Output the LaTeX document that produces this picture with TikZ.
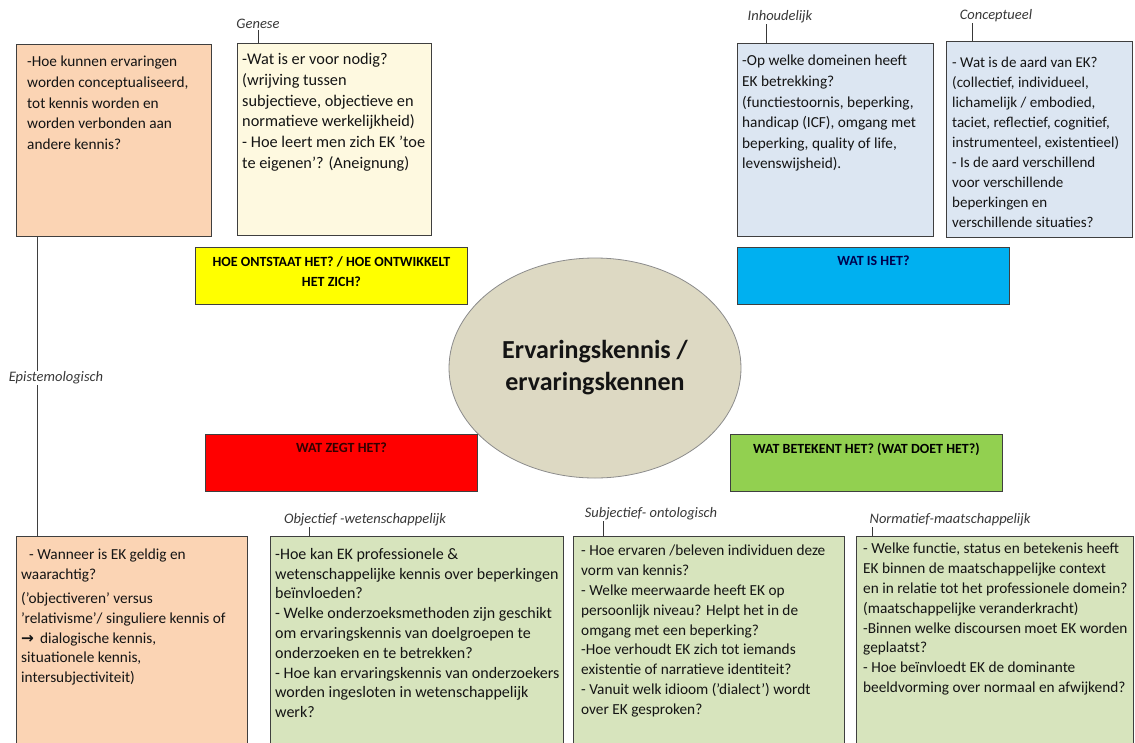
\documentclass[tikz,border=0pt]{standalone}
\usepackage{fontspec}
\setmainfont{Carlito}
\newfontfamily\arrowfont{DejaVu Sans}
\usetikzlibrary{positioning, shapes.geometric}

\definecolor{peach}{HTML}{FBD4B4}
\definecolor{cream}{HTML}{FEF9E0}
\definecolor{paleblue}{HTML}{DCE6F2}
\definecolor{paleolive}{HTML}{D7E4BD}
\definecolor{headyellow}{HTML}{FFFF00}
\definecolor{headcyan}{HTML}{00B0F0}
\definecolor{headred}{HTML}{FF0000}
\definecolor{headgreen}{HTML}{92D050}
\definecolor{ovalfill}{HTML}{DDD9C3}
\definecolor{ovalline}{HTML}{8C8C8C}
\definecolor{boxline}{HTML}{3F3F3F}
\definecolor{inkdark}{HTML}{141414}
\definecolor{inkgray}{HTML}{383838}

\tikzset{
  qbox/.style={draw=boxline, line width=0.9pt, anchor=north west, inner sep=0pt},
  qtext/.style={anchor=north west, align=left, inner sep=0pt, text=inkdark,
    font=\fontsize{15.3}{20.6}\selectfont},
  qlow/.style={qtext, font=\fontsize{15.3}{19.8}\selectfont},
  aspect/.style={inner sep=1pt, text=inkgray, font=\itshape\fontsize{14.5}{16}\selectfont},
  headbox/.style={draw=boxline, line width=0.9pt, anchor=north west, inner sep=0pt,
    minimum width=272pt, minimum height=57pt},
  headtext/.style={anchor=north, align=center, inner sep=0pt,
    font=\bfseries\fontsize{14}{20}\selectfont},
  tick/.style={draw=inkgray, line width=0.7pt},
}

\begin{document}
\begin{tikzpicture}[x=1pt, y=-1pt]
  \clip (0,0) rectangle (1135,742);
  \fill[white] (0,0) rectangle (1135,742);

  % Ovaal in het midden
  \node[ellipse, draw=ovalline, fill=ovalfill, line width=0.8pt,
    minimum width=292pt, minimum height=220pt, inner sep=0pt] (kern) at (595,368) {};
  \node[align=center, text=inkdark, font=\bfseries\fontsize{26}{32}\selectfont]
    (kernT) at (kern.center) {Ervaringskennis /\\ervaringskennen};

  % Bovenste vakken
  \node[qbox, fill=peach, minimum width=195pt, minimum height=192pt] (epiTop) at (16,44) {};
  \node[qtext, below right=12pt and 11pt of epiTop.north west] (epiTopT)
    {-Hoe kunnen ervaringen\\worden  conceptualiseerd,\\tot kennis worden en\\worden verbonden aan\\andere kennis?};

  \node[qbox, fill=cream, minimum width=194pt, minimum height=192pt] (genBox) at (237,43) {};
  \node[qtext, font=\fontsize{16.3}{20.8}\selectfont, below right=10pt and 5pt of genBox.north west] (genT)
    {-Wat is er voor nodig?\\(wrijving tussen\\subjectieve, objectieve en\\normatieve werkelijkheid)\\- Hoe leert men zich EK 'toe\\te eigenen'? (Aneignung)};

  \node[qbox, fill=paleblue, minimum width=196pt, minimum height=193pt] (inhBox) at (737,43) {};
  \node[qtext, below right=12pt and 5pt of inhBox.north west] (inhT)
    {-Op welke domeinen heeft\\EK betrekking?\\(functiestoornis, beperking,\\handicap (ICF), omgang met\\beperking, quality of life,\\levenswijsheid).};

  \node[qbox, fill=paleblue, minimum width=186pt, minimum height=196pt] (conBox) at (946,41) {};
  \node[qtext, font=\fontsize{15}{20}\selectfont, below right=16pt and 6pt of conBox.north west] (conT)
    {- Wat is de aard van EK?\\(collectief, individueel,\\lichamelijk / embodied,\\taciet, reflectief, cognitief,\\instrumenteel,  existentieel)\\- Is de aard verschillend\\voor verschillende\\beperkingen en\\verschillende situaties?};

  % Vragen rond de ovaal
  \node[headbox, fill=headyellow] (hoeBox) at (195,247) {};
  \node[headtext, below=9pt of hoeBox.north] (hoeT) {HOE ONTSTAAT HET? / HOE ONTWIKKELT\\HET ZICH?};
  \node[headbox, fill=headcyan] (watBox) at (737,247) {};
  \node[headtext, text=black!70!blue, below=9pt of watBox.north] (watT) {WAT IS HET?};
  \node[headbox, fill=headred] (zegtBox) at (205,434) {};
  \node[headtext, text=black!80!red, below=9pt of zegtBox.north] (zegtT) {WAT ZEGT HET?};
  \node[headbox, fill=headgreen] (betBox) at (730,434) {};
  \node[headtext, below=9pt of betBox.north] (betT) {WAT BETEKENT HET? (WAT DOET HET?)};

  % Onderste vakken
  \node[qbox, fill=peach, minimum width=231pt, minimum height=220pt] (epiBot) at (16,536) {};
  \node[qlow, below right=13pt and 5pt of epiBot.north west] (epiBotT)
    {\hspace{8pt}- Wanneer is EK geldig en\\waarachtig?\\[4pt]('objectiveren'  versus\\'relativisme'/ singuliere kennis of\\{\arrowfont\bfseries →}\, dialogische kennis,\\situationele kennis,\\intersubjectiviteit)};

  \node[qbox, fill=paleolive, minimum width=293pt, minimum height=220pt] (objBox) at (270,536) {};
  \node[qlow, font=\fontsize{16}{19.8}\selectfont, below right=12pt and 5pt of objBox.north west] (objT)
    {-Hoe kan EK professionele \&\\wetenschappelijke kennis over beperkingen\\beïnvloeden?\\- Welke onderzoeksmethoden zijn geschikt\\om ervaringskennis van doelgroepen te\\onderzoeken en te betrekken?\\- Hoe kan ervaringskennis van onderzoekers\\worden ingesloten in wetenschappelijk\\werk?};

  \node[qbox, fill=paleolive, minimum width=271pt, minimum height=220pt] (subBox) at (573,536) {};
  \node[qlow, below right=9pt and 8pt of subBox.north west] (subT)
    {- Hoe ervaren /beleven individuen deze\\vorm van kennis?\\- Welke meerwaarde heeft EK op\\persoonlijk niveau? Helpt het in de\\omgang met een beperking?\\-Hoe verhoudt EK zich tot iemands\\existentie of narratieve identiteit?\\- Vanuit welk idioom ('dialect') wordt\\over EK gesproken?};

  \node[qbox, fill=paleolive, minimum width=277pt, minimum height=220pt] (norBox) at (856,536) {};
  \node[qlow, below right=7pt and 7pt of norBox.north west] (norT)
    {- Welke functie, status en betekenis heeft\\EK  binnen de maatschappelijke context\\en in relatie tot het professionele domein?\\(maatschappelijke veranderkracht)\\-Binnen welke discoursen moet EK worden\\geplaatst?\\- Hoe beïnvloedt EK de dominante\\beeldvorming over normaal en afwijkend?};

  % Aspecten met streepje naar hun vak
  \node[aspect] (genL) at (258,24) {Genese};
  \node[aspect] (inhL) at (780,17) {Inhoudelijk};
  \node[aspect] (conL) at (996,16) {Conceptueel};
  \node[aspect] (objL) at (365,520) {Objectief -wetenschappelijk};
  \node[aspect] (subL) at (651,514) {Subjectief- ontologisch};
  \node[aspect] (norL) at (950,520) {Normatief-maatschappelijk};

  \coordinate (genP) at (genL.south);
  \coordinate (inhP) at ([xshift=-14pt]inhL.south);
  \coordinate (conP) at ([xshift=-24pt]conL.south);
  \coordinate (objP) at ([xshift=-56pt]objL.south);
  \coordinate (subP) at ([xshift=-48pt]subL.south);
  \coordinate (norP) at ([xshift=-78pt]norL.south);
  \draw[tick] (genP) -- (genP |- genBox.north);
  \draw[tick] (inhP) -- (inhP |- inhBox.north);
  \draw[tick] (conP) -- (conP |- conBox.north);
  \draw[tick] (objP) -- (objP |- objBox.north);
  \draw[tick] (subP) -- (subP |- subBox.north);
  \draw[tick] (norP) -- (norP |- norBox.north);

  % Epistemologische lijn links
  \coordinate (epiP) at ([xshift=21pt]epiTop.south west);
  \draw[tick, line width=0.9pt, draw=boxline] (epiP) -- (epiP |- epiBot.north);
  \node[aspect, fill=white] (epiL) at (56,378) {Epistemologisch};
\end{tikzpicture}
\end{document}
